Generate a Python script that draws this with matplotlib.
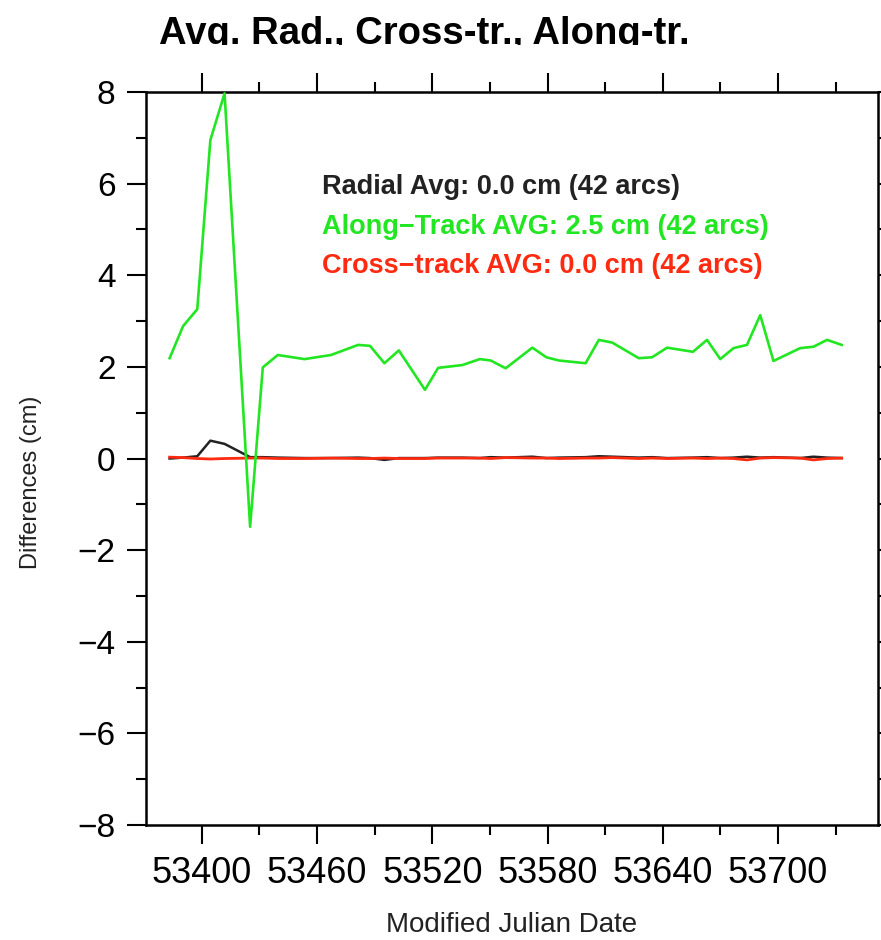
import numpy as np
import matplotlib
matplotlib.use("Agg")
import matplotlib.pyplot as plt
from matplotlib.ticker import MultipleLocator
from matplotlib.patches import Rectangle

plt.rcParams['font.family'] = ['Liberation Sans', 'DejaVu Sans']

# arc epochs (MJD)
mjd = [53383.3, 53390.3, 53397.7, 53404.5, 53411.9, 53425.2, 53431.8, 53439.6,
       53453.5, 53467.3, 53481.4, 53487.6, 53495.1, 53502.6, 53516.2, 53523.1,
       53535.7, 53544.7, 53550.4, 53558.2, 53572.1, 53579.4, 53585.9, 53599.8,
       53606.7, 53613.7, 53627.5, 53634.4, 53642.2, 53655.7, 53663.0, 53669.9,
       53676.8, 53683.8, 53690.7, 53697.6, 53711.5, 53718.4, 53725.5, 53733.1]

along = [2.19, 2.89, 3.26, 6.95, 7.97, -1.49, 1.99, 2.26, 2.17, 2.26, 2.48, 2.46,
         2.08, 2.36, 1.50, 1.98, 2.04, 2.17, 2.14, 1.97, 2.42, 2.21, 2.14, 2.08,
         2.59, 2.53, 2.19, 2.21, 2.42, 2.33, 2.59, 2.17, 2.41, 2.48, 3.13, 2.13,
         2.41, 2.44, 2.59, 2.48]

radial = [0.00, 0.02, 0.05, 0.39, 0.32, 0.03, 0.03, 0.02, 0.01, 0.01, 0.02, 0.01,
          -0.03, 0.01, 0.01, 0.02, 0.02, 0.01, 0.03, 0.02, 0.04, 0.01, 0.02, 0.03,
          0.05, 0.04, 0.02, 0.03, 0.01, 0.02, 0.03, 0.01, 0.02, 0.04, 0.02, 0.03,
          0.01, 0.04, 0.02, 0.01]

cross = [0.03, 0.02, 0.00, -0.01, 0.00, 0.01, 0.01, 0.00, 0.00, 0.01, 0.00, 0.00,
         0.01, 0.00, 0.00, 0.01, 0.01, 0.01, 0.00, 0.02, 0.01, 0.01, 0.00, 0.01,
         0.01, 0.02, 0.00, 0.01, 0.00, 0.01, 0.00, 0.01, 0.00, -0.03, 0.01, 0.02,
         0.01, -0.03, 0.00, 0.01]

labels = ["Radial Avg: 0.0 cm (42 arcs)",
          "Along\u2212Track AVG: 2.5 cm (42 arcs)",
          "Cross\u2212track AVG: 0.0 cm (42 arcs)"]
colors = ["#222222", "#22e622", "#ff2a10"]

fig = plt.figure(figsize=(8.81, 9.40), dpi=100)
ax = fig.add_axes([0.1657, 0.1223, 0.8309, 0.7798])

ax.plot(mjd, radial, color="#222222", lw=1.8, zorder=2)
ax.plot(mjd, cross, color="#ff2a10", lw=2.0, zorder=3)
ax.plot(mjd, along, color="#22e622", lw=1.9, zorder=4)

ax.set_xlim(53371, 53752)
ax.set_ylim(-8, 8)
ax.xaxis.set_major_locator(MultipleLocator(60))
ax.xaxis.set_minor_locator(MultipleLocator(30))
ax.yaxis.set_major_locator(MultipleLocator(2))
ax.yaxis.set_minor_locator(MultipleLocator(1))
ax.ticklabel_format(axis='x', useOffset=False, style='plain')

ax.tick_params(which='both', direction='out', top=True, right=True,
               width=1.5, labelsize=24)
ax.tick_params(axis='x', labelsize=26)
ax.tick_params(which='major', length=14, pad=8)
ax.tick_params(which='minor', length=7)
for s in ax.spines.values():
    s.set_linewidth(1.8)

ax.set_xlabel("Modified Julian Date", fontsize=20, color="#222222")
ax.xaxis.set_label_coords(0.5, -0.118)
ax.set_ylabel("Differences (cm)", fontsize=17, color="#222222")
ax.yaxis.set_label_coords(-0.142, 0.468)

for i, (txt, c) in enumerate(zip(labels, colors)):
    ax.text(0.241, 0.871 - i * 0.0545, txt, transform=ax.transAxes, color=c,
            fontsize=19.5, fontweight='bold', va='center', ha='left')

fig.text(0.482, 0.953, "Avg. Rad., Cross-tr., Along-tr.", ha='center',
         va='baseline', fontsize=27.5, fontweight='bold')
# the source image cuts off the title descenders
fig.patches.append(Rectangle((0.1, 0.935), 0.8, 0.017, transform=fig.transFigure,
                             facecolor='white', edgecolor='none', zorder=10))

fig.savefig("out.png", dpi=100)
